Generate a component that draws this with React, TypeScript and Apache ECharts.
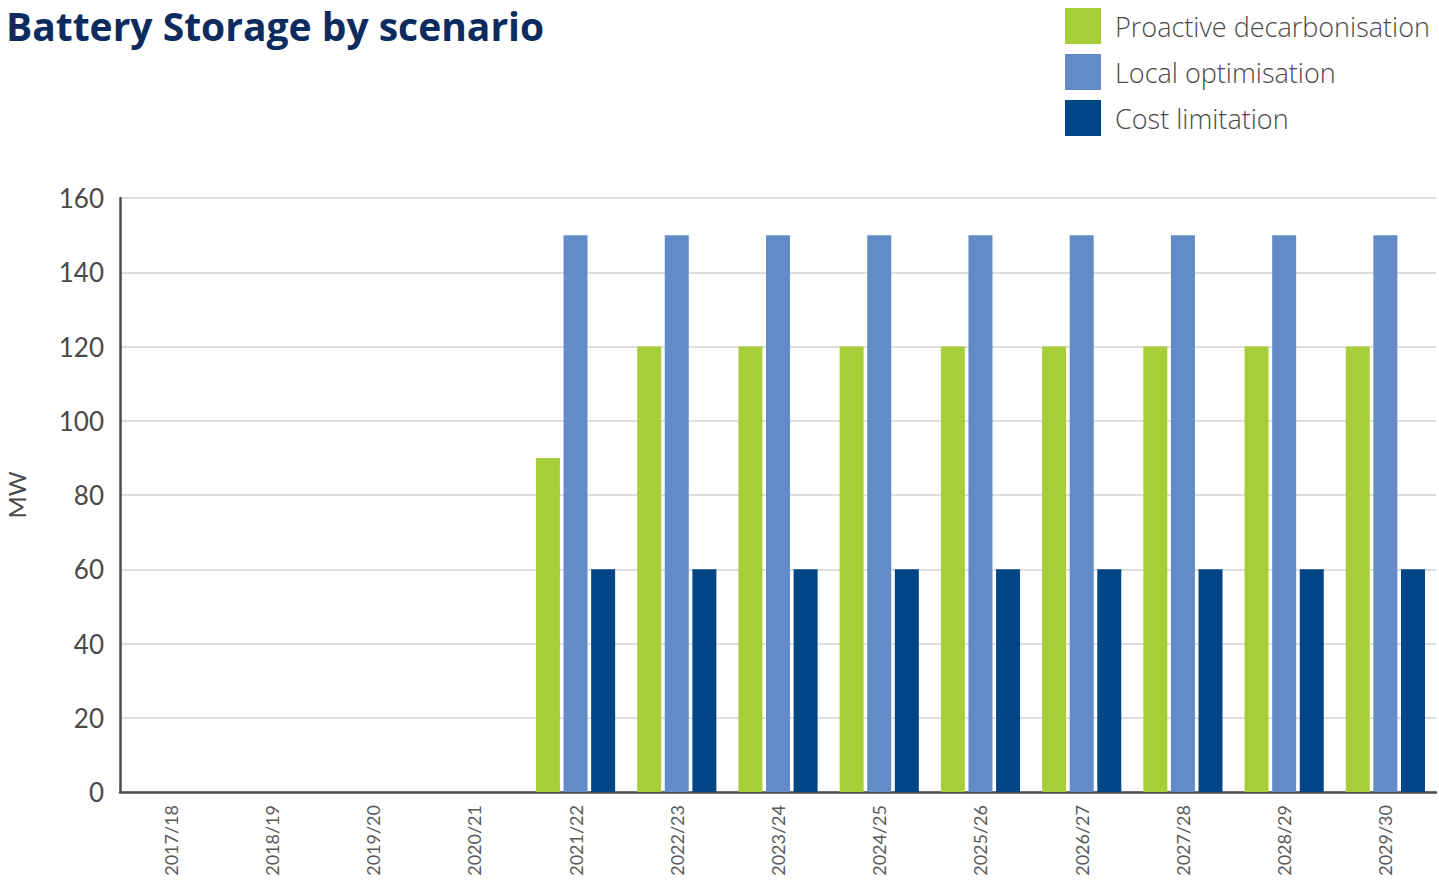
import React, { useEffect, useRef } from "react";
import * as echarts from "echarts";

const categories = [
  "2017/18", "2018/19", "2019/20", "2020/21", "2021/22", "2022/23", "2023/24",
  "2024/25", "2025/26", "2026/27", "2027/28", "2028/29", "2029/30",
];
const proactive = [0, 0, 0, 0, 90, 120, 120, 120, 120, 120, 120, 120, 120];
const localOpt = [0, 0, 0, 0, 150, 150, 150, 150, 150, 150, 150, 150, 150];
const costLim = [0, 0, 0, 0, 60, 60, 60, 60, 60, 60, 60, 60, 60];
const yTicks = { min: 0, max: 160, interval: 20 };

export default function App() {
  const ref = useRef<HTMLDivElement>(null);
  useEffect(() => {
    document.body.style.margin = "0";
    const chart = echarts.init(ref.current!, null, { renderer: "svg" });
    const font = "Lato";
    const font2 = "Open Sans";
    chart.setOption({
      animation: false,
      backgroundColor: "#ffffff",
      title: {
        text: "Battery Storage by scenario",
        left: 1,
        top: 1,
        padding: [2, 5],
        textStyle: { fontFamily: font2, fontSize: 39, lineHeight: 44, fontWeight: "bold", color: "#0d2b5e" },
      },
      legend: {
        orient: "vertical",
        left: 1065,
        top: 8,
        padding: 0,
        itemWidth: 36,
        itemHeight: 36,
        itemGap: 10,
        icon: "rect",
        textStyle: { fontFamily: font2, fontSize: 27, fontWeight: 300, color: "#4a4a4a", padding: [0, 0, 0, 9] },
        data: ["Proactive decarbonisation", "Local optimisation", "Cost limitation"],
      },
      grid: { left: 120, right: 3, top: 198, bottom: 91, containLabel: false, outerBoundsMode: "none" },
      xAxis: {
        type: "category",
        data: categories,
        axisLine: { lineStyle: { color: "#4d4d4d", width: 2.5 } },
        axisTick: { show: false },
        axisLabel: { rotate: 90, fontFamily: font, fontSize: 18, color: "#5a5a5a", margin: 13 },
      },
      yAxis: {
        type: "value",
        min: yTicks.min,
        max: yTicks.max,
        interval: yTicks.interval,
        name: "MW",
        nameLocation: "middle",
        nameGap: 92,
        nameRotate: 90,
        nameTextStyle: { fontFamily: font, fontSize: 24, color: "#4a4a4a" },
        axisLine: { show: true, lineStyle: { color: "#4d4d4d", width: 2.5 } },
        axisTick: { show: false },
        axisLabel: { fontFamily: font, fontSize: 26, color: "#4a4a4a", margin: 16 },
        splitLine: { lineStyle: { color: "#d3d3d3", width: 1.5 } },
      },
      series: [
        { name: "Proactive decarbonisation", type: "bar", data: proactive, barWidth: 24, barGap: "15%", itemStyle: { color: "#a6ce39" } },
        { name: "Local optimisation", type: "bar", data: localOpt, barWidth: 24, barGap: "15%", itemStyle: { color: "#628bc8" } },
        { name: "Cost limitation", type: "bar", data: costLim, barWidth: 24, barGap: "15%", itemStyle: { color: "#004687" } },
      ],
    });
    return () => chart.dispose();
  }, []);
  return <div ref={ref} style={{ width: 1439, height: 883 }} />;
}
